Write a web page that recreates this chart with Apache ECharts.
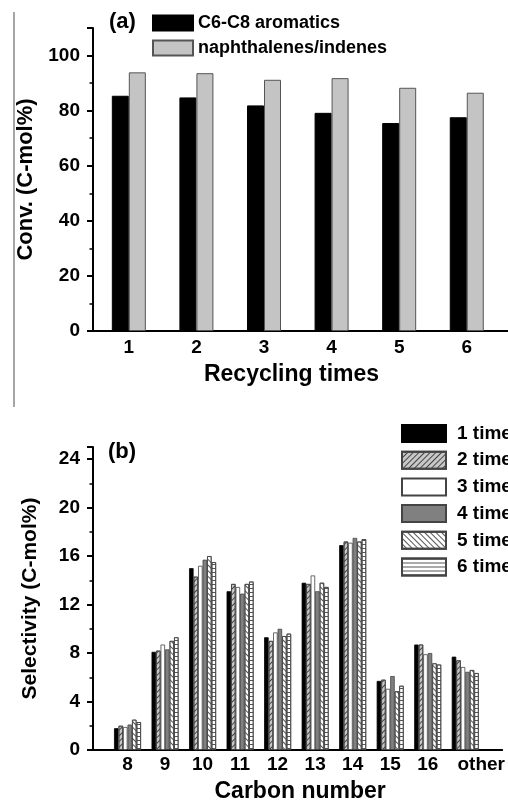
<!DOCTYPE html>
<html><head><meta charset="utf-8">
<script src="https://cdn.jsdelivr.net/npm/echarts@6/dist/echarts.min.js"></script>
<style>html,body{margin:0;padding:0;background:#fff}#c{width:508px;height:804px}</style>
</head><body><div id="c"></div>
<script>
// ---- panel (a) data ----
const recycleTimes = [1, 2, 3, 4, 5, 6];
const recycleLabels = ['1', '2', '3', '4', '5', '6'];
const c6c8Aromatics = [85.4, 84.8, 81.9, 79.2, 75.5, 77.6];
const naphIndenes = [93.9, 93.6, 91.2, 91.8, 88.3, 86.5];
const convTicks = [0, 20, 40, 60, 80, 100];

// ---- panel (b) data ----
const carbonPos = [8, 9, 10, 11, 12, 13, 14, 15, 16, 17];
const carbonLabels = ['8', '9', '10', '11', '12', '13', '14', '15', '16', 'other'];
const time1 = [1.8, 8.1, 15.0, 13.1, 9.3, 13.8, 16.9, 5.7, 8.7, 7.7];
const time2 = [2.0, 8.2, 14.3, 13.7, 9.0, 13.7, 17.2, 5.8, 8.7, 7.4];
const time3 = [1.9, 8.7, 15.2, 13.45, 9.7, 14.4, 17.1, 5.05, 7.9, 6.85];
const time4 = [2.1, 8.3, 15.7, 12.9, 10.0, 13.1, 17.5, 6.1, 8.0, 6.45];
const time5 = [2.5, 9.0, 16.0, 13.7, 9.4, 13.8, 17.2, 4.85, 7.15, 6.6];
const time6 = [2.3, 9.3, 15.5, 13.9, 9.6, 13.45, 17.4, 5.3, 7.05, 6.35];
const timeNames = ['1 time', '2 times', '3 times', '4 times', '5 times', '6 times'];
const selTicks = [0, 4, 8, 12, 16, 20, 24];

const FONT = "'Liberation Sans', Arial, sans-serif";
const chart = echarts.init(document.getElementById('c'), null, {renderer: 'canvas'});

function pairs(xs, ys) { return xs.map((x, i) => [x, ys[i]]); }

const yAxisCommon = {
  type: 'value', min: 0,
  axisLine: {show: true, lineStyle: {color: '#000', width: 2}},
  axisTick: {show: true, inside: false, length: 6, lineStyle: {color: '#000', width: 2}},
  minorTick: {show: true, splitNumber: 2, length: 3.5, lineStyle: {color: '#000', width: 1.5}},
  splitLine: {show: false}, minorSplitLine: {show: false},
  axisLabel: {showMaxLabel: false, margin: 13, color: '#000', fontFamily: FONT, fontWeight: 'bold', fontSize: 19},
  nameLocation: 'middle'
};

const decalLines = (rot, col, gap) => ({symbol: 'rect', symbolSize: 1, color: col, dashArrayX: [1, 0], dashArrayY: [1, gap], rotation: rot});

const timeStyles = [
  {color: '#000', borderColor: '#000', borderWidth: 0.8},
  {color: '#c8c8c8', borderColor: '#444', borderWidth: 0.8, decal: decalLines(-Math.PI / 4, '#444', 2.5)},
  {color: '#fff', borderColor: '#444', borderWidth: 0.8},
  {color: '#808080', borderColor: '#444', borderWidth: 0.8},
  {color: '#fff', borderColor: '#444', borderWidth: 0.8, decal: decalLines(Math.PI / 4, '#555', 2.5)},
  {color: '#fff', borderColor: '#444', borderWidth: 0.8, decal: decalLines(0, '#555', 3)}
];
const timeData = [time1, time2, time3, time4, time5, time6];

const option = {
  backgroundColor: '#fff',
  animation: false,
  grid: [
    {left: 93, right: 0, top: 28, bottom: 473},
    {left: 93, right: 0, top: 447, bottom: 52}
  ],
  xAxis: [
    {
      gridIndex: 0, type: 'value', min: 0.47, max: 6.61,
      axisLine: {show: true, onZero: false, lineStyle: {color: '#000', width: 2}},
      axisTick: {show: false}, splitLine: {show: false},
      axisLabel: {customValues: recycleTimes, margin: 7, color: '#000', fontFamily: FONT, fontWeight: 'bold', fontSize: 19,
        formatter: v => recycleLabels[recycleTimes.indexOf(v)]},
      name: 'Recycling times', nameLocation: 'middle', nameGap: 32,
      nameTextStyle: {color: '#000', fontFamily: FONT, fontWeight: 'bold', fontSize: 23, padding: [0, 18, 0, 0]}
    },
    {
      gridIndex: 1, type: 'value', min: 7.08, max: 17.985,
      axisLine: {show: true, onZero: false, lineStyle: {color: '#000', width: 2}},
      axisTick: {show: false}, splitLine: {show: false},
      axisLabel: {customValues: carbonPos, margin: 5, color: '#000', fontFamily: FONT, fontWeight: 'bold', fontSize: 19,
        formatter: v => { const l = carbonLabels[carbonPos.indexOf(v)]; return l === 'other' ? '{o|' + l + '}' : l; },
        rich: {o: {padding: [0, 0, 0, 32], color: '#000', fontFamily: FONT, fontWeight: 'bold', fontSize: 19}}},
      name: 'Carbon number', nameLocation: 'middle', nameGap: 30,
      nameTextStyle: {color: '#000', fontFamily: FONT, fontWeight: 'bold', fontSize: 23, padding: [0, 0, 0, 5]}
    }
  ],
  yAxis: [
    Object.assign({}, yAxisCommon, {gridIndex: 0, max: 110, interval: 20, name: 'Conv. (C-mol%)', nameGap: 55,
      nameTextStyle: {color: '#000', fontFamily: FONT, fontWeight: 'bold', fontSize: 22}}),
    Object.assign({}, yAxisCommon, {gridIndex: 1, max: 25, interval: 4, name: 'Selectivity (C-mol%)', nameGap: 52,
      nameTextStyle: {color: '#000', fontFamily: FONT, fontWeight: 'bold', fontSize: 21}})
  ],
  legend: [
    {
      data: ['C6-C8 aromatics', 'naphthalenes/indenes'],
      orient: 'vertical', left: 152, top: 14, padding: 0, itemWidth: 40, itemHeight: 15, itemGap: 7,
      icon: 'rect', selectedMode: false,
      textStyle: {color: '#000', fontFamily: FONT, fontWeight: 'bold', fontSize: 18, lineHeight: 15}
    },
    {
      data: timeNames,
      orient: 'vertical', left: 401, top: 424, padding: 0, itemWidth: 44, itemHeight: 17, itemGap: 7.7,
      icon: 'rect', selectedMode: false,
      textStyle: {color: '#000', fontFamily: FONT, fontWeight: 'bold', fontSize: 19, lineHeight: 17, padding: [0, 0, 0, 6]}
    }
  ],
  graphic: [
    {type: 'line', shape: {x1: 14, y1: 12, x2: 14, y2: 407}, style: {stroke: '#888', lineWidth: 1.5}},
    {type: 'text', left: 109, top: 11, style: {text: '(a)', fill: '#000', font: "bold 22px 'Liberation Sans', Arial, sans-serif"}},
    {type: 'text', left: 108, top: 441, style: {text: '(b)', fill: '#000', font: "bold 22px 'Liberation Sans', Arial, sans-serif"}}
  ],
  series: [
    {type: 'bar', name: 'C6-C8 aromatics', xAxisIndex: 0, yAxisIndex: 0, barWidth: 17, barGap: '0%',
      data: pairs(recycleTimes, c6c8Aromatics), itemStyle: {color: '#000', borderColor: '#000', borderWidth: 1}},
    {type: 'bar', name: 'naphthalenes/indenes', xAxisIndex: 0, yAxisIndex: 0, barWidth: 17, barGap: '0%',
      data: pairs(recycleTimes, naphIndenes), itemStyle: {color: '#c4c4c4', borderColor: '#555', borderWidth: 1}}
  ].concat(timeData.map((d, i) => ({
    type: 'bar', name: timeNames[i], xAxisIndex: 1, yAxisIndex: 1, barWidth: 4.5, barGap: '0%',
    data: pairs(carbonPos, d), itemStyle: timeStyles[i]
  })))
};
chart.setOption(option);
</script>
</body></html>
